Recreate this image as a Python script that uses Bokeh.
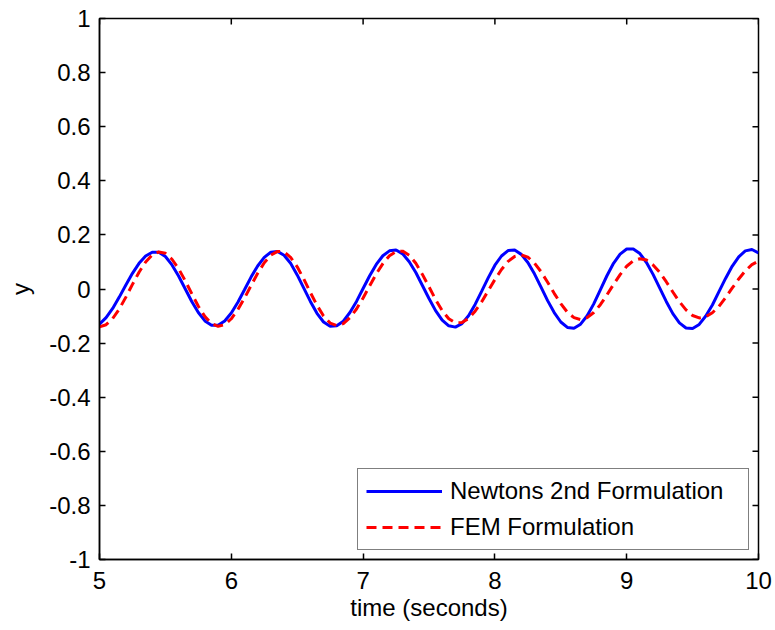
import numpy as np
from bokeh.plotting import figure
from bokeh.models import (Range1d, LinearAxis, FixedTicker, PrintfTickFormatter,
                          Legend, LegendItem, ColumnDataSource)
from bokeh.embed import file_html
from bokeh.resources import INLINE

# ---- data ----
time = [round(5 + 0.05 * i, 2) for i in range(101)]

newtons = [
    -0.130, -0.106, -0.072, -0.030, 0.015, 0.058, 0.095, 0.122, 0.136, 0.136,
    0.120, 0.089, 0.048, 0.001, -0.046, -0.087, -0.118, -0.134, -0.134, -0.118,
    -0.089, -0.049, -0.003, 0.044, 0.085, 0.117, 0.136, 0.139, 0.125, 0.095,
    0.052, 0.003, -0.046, -0.090, -0.122, -0.138, -0.136, -0.119, -0.087, -0.046,
    0.002, 0.049, 0.091, 0.123, 0.141, 0.144, 0.130, 0.101, 0.061, 0.013,
    -0.035, -0.080, -0.115, -0.136, -0.141, -0.128, -0.099, -0.057, -0.008, 0.042,
    0.088, 0.122, 0.142, 0.144, 0.128, 0.098, 0.056, 0.007, -0.043, -0.087,
    -0.122, -0.142, -0.145, -0.130, -0.099, -0.055, -0.003, 0.049, 0.095, 0.129,
    0.148, 0.148, 0.131, 0.098, 0.054, 0.004, -0.046, -0.091, -0.125, -0.144,
    -0.146, -0.131, -0.100, -0.059, -0.010, 0.039, 0.084, 0.119, 0.141, 0.146,
    0.133,
]

fem = [
    -0.140, -0.132, -0.109, -0.074, -0.030, 0.017, 0.062, 0.100, 0.126, 0.137,
    0.132, 0.110, 0.075, 0.031, -0.017, -0.064, -0.102, -0.128, -0.138, -0.132,
    -0.110, -0.076, -0.034, 0.013, 0.058, 0.097, 0.125, 0.139, 0.137, 0.117,
    0.082, 0.037, -0.013, -0.060, -0.100, -0.126, -0.135, -0.128, -0.106, -0.074,
    -0.033, 0.012, 0.056, 0.094, 0.123, 0.138, 0.140, 0.125, 0.095, 0.054,
    0.008, -0.039, -0.080, -0.110, -0.125, -0.124, -0.109, -0.082, -0.047, -0.006,
    0.035, 0.072, 0.102, 0.120, 0.126, 0.118, 0.096, 0.064, 0.025, -0.016,
    -0.054, -0.086, -0.106, -0.113, -0.106, -0.087, -0.058, -0.022, 0.017, 0.053,
    0.084, 0.104, 0.112, 0.107, 0.089, 0.062, 0.027, -0.011, -0.047, -0.077,
    -0.098, -0.107, -0.103, -0.088, -0.064, -0.032, 0.003, 0.037, 0.067, 0.090,
    0.103,
]

x_ticks = [5, 6, 7, 8, 9, 10]
y_ticks = [-1, -0.8, -0.6, -0.4, -0.2, 0, 0.2, 0.4, 0.6, 0.8, 1]
series_names = ["Newtons 2nd Formulation", "FEM Formulation"]

FONT = "Liberation Sans"
FS = "24px"
X0, X1, Y0, Y1 = 5, 10, -1, 1

p = figure(width=775, height=630, output_backend="svg", toolbar_location=None,
           x_range=Range1d(X0, X1), y_range=Range1d(Y0, Y1),
           min_border_left=99, min_border_right=17, min_border_top=18,
           min_border_bottom=71, x_axis_type=None, y_axis_type=None)
p.outline_line_color = "black"
p.outline_line_width = 1.5
p.grid.visible = False
p.background_fill_color = "white"
p.border_fill_color = "white"

def style_axis(ax, ticks):
    ax.ticker = FixedTicker(ticks=ticks)
    ax.formatter = PrintfTickFormatter(format="%g")
    ax.axis_line_color = "black"
    ax.axis_line_width = 1.5
    ax.major_tick_line_color = "black"
    ax.major_tick_line_width = 1.5
    ax.major_tick_in = 6
    ax.major_tick_out = 0
    ax.minor_tick_line_color = None
    ax.major_label_text_font = FONT
    ax.major_label_text_font_size = FS
    ax.major_label_text_color = "black"
    ax.axis_label_text_font = FONT
    ax.axis_label_text_font_size = FS
    ax.axis_label_text_font_style = "normal"
    ax.axis_label_text_color = "black"

xb = LinearAxis(axis_label="time (seconds)")
style_axis(xb, x_ticks)
xb.major_label_standoff = 12
xb.axis_label_standoff = 2
p.add_layout(xb, "below")

yl = LinearAxis(axis_label="y")
style_axis(yl, y_ticks)
yl.major_label_standoff = 9
yl.axis_label_standoff = 12
p.add_layout(yl, "left")

# inward ticks on the top and right edges of the box
p.ray(x=x_ticks, y=[Y1] * len(x_ticks), length=6, length_units="screen",
      angle=-np.pi / 2, line_color="black", line_width=1.5)
p.ray(x=[X1] * len(y_ticks), y=y_ticks, length=6, length_units="screen",
      angle=np.pi, line_color="black", line_width=1.5)

src = ColumnDataSource(dict(t=time, n=newtons, f=fem))
r1 = p.line("t", "n", source=src, line_color="#0000FF", line_width=3)
r2 = p.line("t", "f", source=src, line_color="#FF0000", line_width=3,
            line_dash="10 6")

legend = Legend(items=[LegendItem(label=series_names[0], renderers=[r1]),
                       LegendItem(label=series_names[1], renderers=[r2])],
                location="bottom_right")
legend.margin = 9
legend.padding = 8
legend.spacing = 8
legend.glyph_width = 76
legend.glyph_height = 28
legend.label_height = 28
legend.label_width = 290
legend.label_standoff = 8
legend.label_text_font = FONT
legend.label_text_font_size = FS
legend.label_text_color = "black"
legend.border_line_color = "black"
legend.border_line_width = 1.5
legend.background_fill_color = "white"
legend.background_fill_alpha = 1.0
p.add_layout(legend, "center")

open("out.html", "w").write(file_html(p, INLINE))
